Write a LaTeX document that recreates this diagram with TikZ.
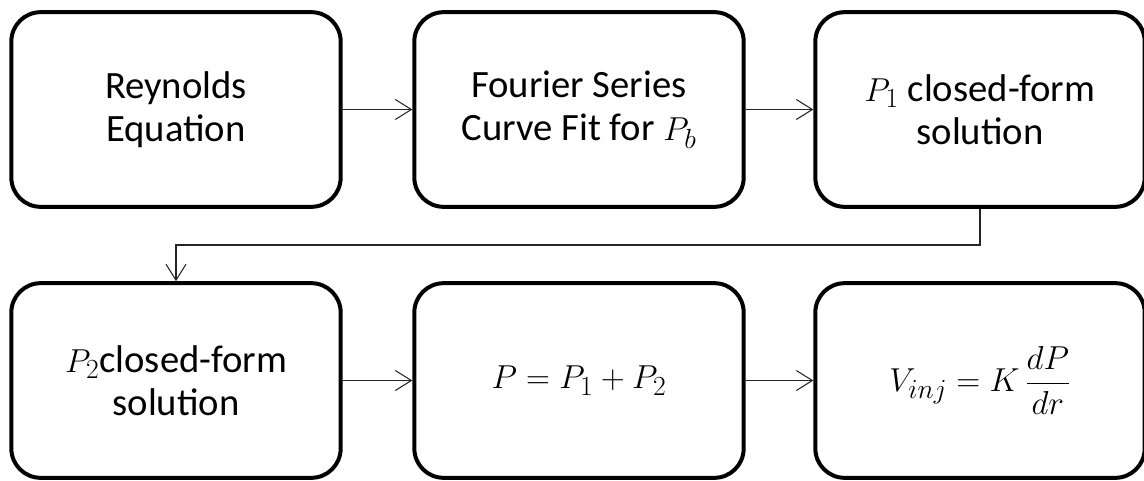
\documentclass[tikz,border=0pt]{standalone}
\usepackage{amsmath}
\usepackage{fontspec}
\setmainfont{Carlito}
\usepackage{tikz}
\usetikzlibrary{arrows.meta, calc}

\begin{document}
\begin{tikzpicture}[
    x=0.75pt, y=0.75pt,
    stage/.style={draw=black, line width=3pt, rounded corners=22pt,
                  minimum width=247pt, minimum height=146pt,
                  inner sep=4pt, align=center,
                  font=\fontsize{29}{32.5}\selectfont},
    flow/.style={-{Straight Barb[length=12pt, width=15pt]},
                 line width=0.8pt, black!85},
  ]

  \useasboundingbox (0,0) rectangle (1144,480);

  % =========================================================
  %  TOP ROW
  % =========================================================
  \node[stage] (reyn) at (176,370.5) {Reynolds\\Equation};
  \node[stage] (four) at (579,370.5) {Fourier Series\\Curve Fit for $P_b$};
  \node[stage] (pone) at (980,370.5) {$P_1$ closed-form\\solution};

  % =========================================================
  %  BOTTOM ROW
  % =========================================================
  \node[stage] (ptwo) at (176,99.5) {$P_2$closed-form\\solution};
  \node[stage] (psum) at (579,99.5) {$P = P_1 + P_2$};
  \node[stage] (vinj) at (980,99.5) {$V_{inj} = K\,\dfrac{dP}{dr}$};

  % connectors
  \draw[flow] (reyn) -- (four);
  \draw[flow] (four) -- (pone);
  \coordinate (turn) at ($(pone.south)!0.5!(ptwo.north)$);
  \draw[flow] (pone.south) -- (pone.south |- turn) -| (ptwo.north);
  \draw[flow] (ptwo) -- (psum);
  \draw[flow] (psum) -- (vinj);

\end{tikzpicture}
\end{document}
